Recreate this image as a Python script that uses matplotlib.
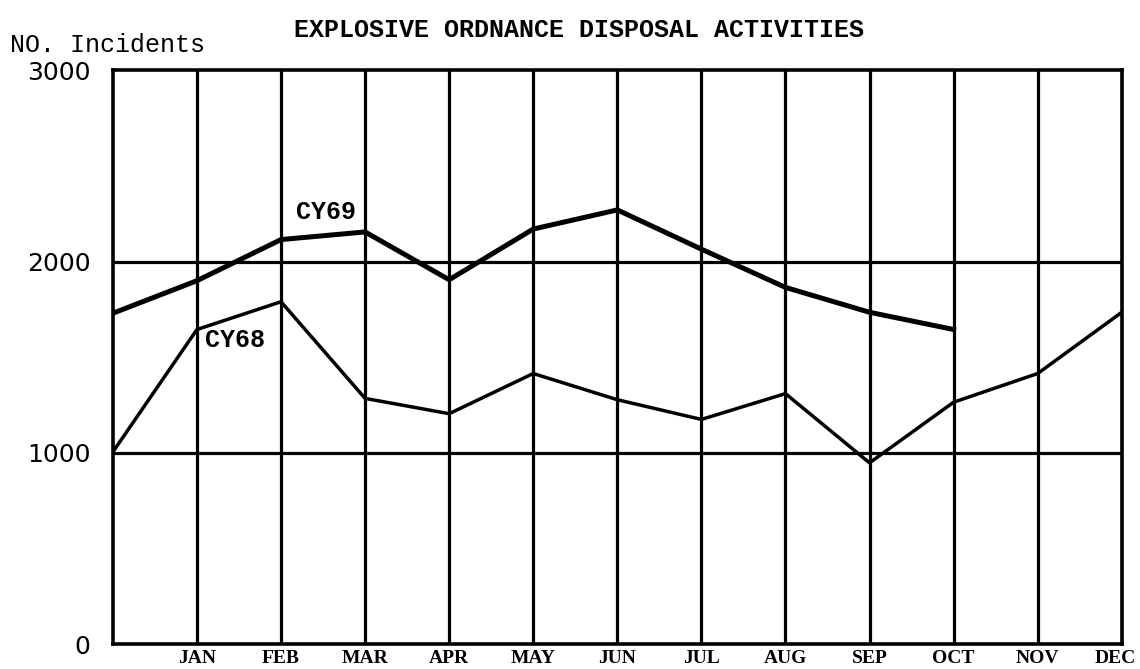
import numpy as np
import matplotlib.pyplot as plt
import matplotlib.transforms as mtransforms

# month tick labels (position 0 = left edge, end of previous year)
months = ['JAN', 'FEB', 'MAR', 'APR', 'MAY', 'JUN', 'JUL', 'AUG', 'SEP', 'OCT', 'NOV', 'DEC']

# values (first point is the left edge)
cy69 = [1730, 1900, 2115, 2155, 1905, 2170, 2270, 2065, 1865, 1735, 1645]
cy68 = [1005, 1645, 1790, 1285, 1205, 1415, 1278, 1175, 1310, 948, 1265, 1415, 1735]

yticks = [0, 1000, 2000, 3000]

mono = 'Liberation Mono'

fig = plt.figure(figsize=(11.4, 6.69), dpi=100)
ax = fig.add_axes([0.099, 0.037, 0.885, 0.858])

for m in range(1, 12):
    ax.axvline(m, color='black', lw=2.3, zorder=1)
for v in [1000, 2000]:
    ax.axhline(v, color='black', lw=2.3, zorder=1)

ax.plot(np.arange(len(cy69)), cy69, color='black', lw=3.6, zorder=3)
ax.plot(np.arange(len(cy68)), cy68, color='black', lw=2.5, zorder=3)

ax.text(2.18, 2260, 'CY69', fontsize=18, fontweight='bold', family=mono, va='center')
ax.text(1.1, 1590, 'CY68', fontsize=18, fontweight='bold', family=mono, va='center')

ax.set_xlim(0, 12)
ax.set_ylim(0, 3000)
ax.set_yticks(yticks)
ax.set_yticklabels([str(v) for v in yticks], fontsize=18)
ax.set_xticks(np.arange(1, 13))
ax.set_xticklabels(months, fontsize=14, fontweight='bold', family='Liberation Serif')
ax.tick_params(axis='y', length=0, pad=16)
ax.tick_params(axis='x', length=0, pad=4)
for s in ax.spines.values():
    s.set_linewidth(2.6)

# pull DEC in so it stays on the page
dec = ax.get_xticklabels()[-1]
dec.set_transform(dec.get_transform() + mtransforms.ScaledTranslation(-0.06, 0, fig.dpi_scale_trans))

fig.text(0.009, 0.932, 'NO. Incidents', fontsize=18, family=mono, va='center')
fig.text(0.508, 0.955, 'EXPLOSIVE ORDNANCE DISPOSAL ACTIVITIES', fontsize=18,
         fontweight='bold', family=mono, ha='center', va='center')

fig.savefig('out.png', dpi=100)
